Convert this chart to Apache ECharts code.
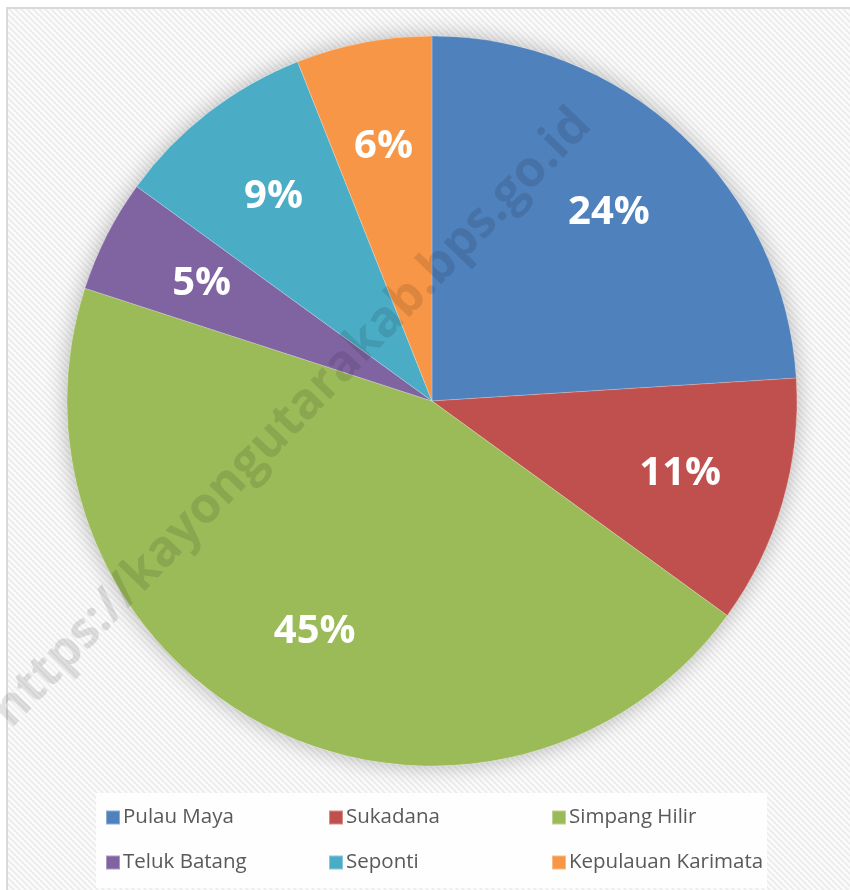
<!DOCTYPE html>
<html>
<head>
<meta charset="utf-8">
<script src="https://cdn.jsdelivr.net/npm/echarts@6/dist/echarts.min.js"></script>
<style>
  html, body { margin: 0; padding: 0; background: #fff; }
  #chart { width: 850px; height: 890px; }
</style>
</head>
<body>
<div id="chart"></div>
<script>
const categories = ['Pulau Maya', 'Sukadana', 'Simpang Hilir', 'Teluk Batang', 'Seponti', 'Kepulauan Karimata'];
const shares = [24, 11, 45, 5, 9, 6];
const colors = ['#4F81BD', '#C0504D', '#9BBB59', '#8064A2', '#4BACC6', '#F79646'];
const watermark = 'https://kayongutarakab.bps.go.id';

// diagonal striped texture used by the chart area
function stripes() {
  const c = document.createElement('canvas');
  c.width = 6; c.height = 6;
  const ctx = c.getContext('2d');
  ctx.fillStyle = '#fbfbfb';
  ctx.fillRect(0, 0, 6, 6);
  ctx.strokeStyle = '#ebebeb';
  ctx.lineWidth = 1.6;
  ctx.beginPath();
  ctx.moveTo(-1, -1); ctx.lineTo(7, 7);
  ctx.moveTo(-4, 2); ctx.lineTo(4, 10);
  ctx.moveTo(2, -4); ctx.lineTo(10, 4);
  ctx.stroke();
  return c;
}

const pieData = categories.map((name, i) => ({ name, value: shares[i], itemStyle: { color: colors[i] } }));
const total = shares.reduce((a, b) => a + b, 0);

const myChart = echarts.init(document.getElementById('chart'));
const center = [432, 401];
const R = 365;

// legend: 3 columns x 2 rows, one legend per entry so the columns line up
const colX = [105, 328, 551];
const rowY = [807, 852];
const legends = categories.map((name, i) => ({
  data: [name],
  left: colX[i % 3],
  top: rowY[Math.floor(i / 3)],
  itemWidth: 14, itemHeight: 14, itemGap: 0,
  padding: 0,
  icon: 'rect',
  selectedMode: false,
  textStyle: { color: '#595959', fontSize: 20.5, fontFamily: 'Open Sans', padding: [0, 0, 0, -2] },
}));

const option = {
  backgroundColor: '#fff',
  animation: false,
  graphic: [
    {
      type: 'rect', z: -10, silent: true,
      shape: { x: 7, y: 8, width: 860, height: 900 },
      style: { fill: { image: stripes(), repeat: 'repeat' }, stroke: '#d9d9d9', lineWidth: 2 },
    },
    {
      type: 'rect', z: -9, silent: true,
      shape: { x: 96, y: 793, width: 671, height: 95 },
      style: { fill: '#fefefe' },
    },
    {
      type: 'text', z: 100, silent: true,
      x: 292, y: 418,
      rotation: Math.PI * 46 / 180,
      style: {
        text: watermark,
        fill: 'rgba(0,0,0,0.11)',
        font: 'bold 50px "Open Sans"',
        align: 'center',
        verticalAlign: 'middle',
      },
    },
  ],
  legend: legends,
  series: [
    {
      name: 'Kecamatan',
      type: 'pie',
      center: center,
      radius: R,
      startAngle: 90,
      clockwise: true,
      data: pieData,
      label: { show: false },
      labelLine: { show: false },
      emphasis: { disabled: true },
      itemStyle: { borderColor: 'rgba(255,255,255,0.35)', borderWidth: 0.6 },
      z: 3,
    },
    {
      // soft shadow behind the pie
      name: 'shadow',
      type: 'pie',
      center: center,
      radius: R,
      silent: true,
      data: [{ name: '', value: total }],
      label: { show: false },
      labelLine: { show: false },
      itemStyle: { color: '#ffffff', shadowBlur: 22, shadowColor: 'rgba(0,0,0,0.28)' },
      legendHoverLink: false,
      z: 1,
    },
    {
      // transparent ring to place the percentage labels
      name: 'labels',
      type: 'pie',
      center: center,
      radius: [R * 0.4, R],
      startAngle: 90,
      silent: true,
      data: categories.map((name, i) => ({ name, value: shares[i] })),
      itemStyle: { color: 'rgba(0,0,0,0)' },
      label: {
        show: true,
        position: 'inside',
        formatter: '{c}%',
        color: '#fff',
        fontSize: 40,
        fontWeight: 'bold',
        fontFamily: 'Open Sans',
      },
      labelLine: { show: false },
      z: 4,
    },
  ],
};
myChart.setOption(option);
</script>
</body>
</html>
